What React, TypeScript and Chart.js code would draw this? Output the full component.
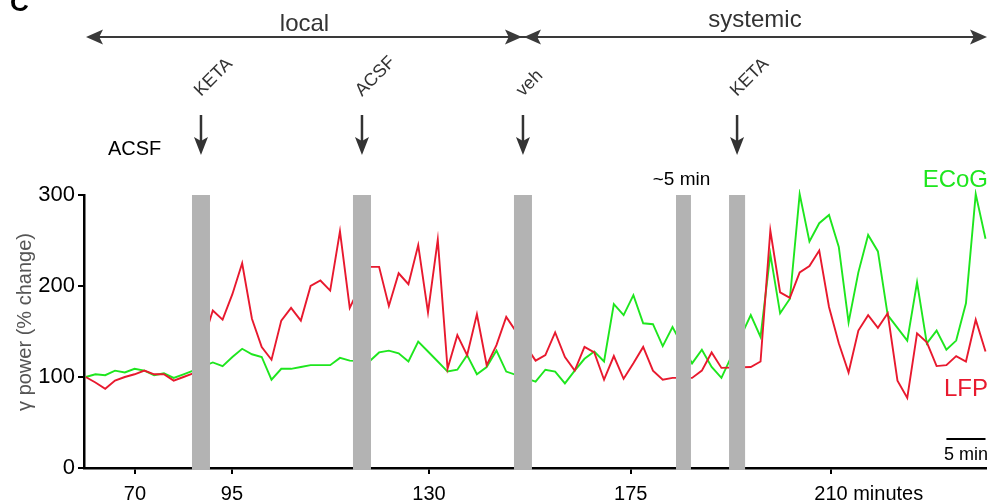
import React, { useEffect, useRef } from 'react';
import { Chart, registerables } from 'chart.js';

Chart.register(...registerables);

// ---- data: gamma power (% change), one value per sample, split by the grey breaks ----
const lfpBaseline = [100, 94, 87, 96, 100, 103, 107, 103, 103, 96, 100, 104];
const lfpLocalKeta = [173, 163, 191, 225, 164, 133, 119, 162, 176, 162, 200, 206, 195, 260, 176];
const lfpLocalAcsf = [221, 221, 178, 214, 202, 245, 171, 251, 109, 146, 124, 169, 113, 135, 166];
const lfpSystemicVeh = [118, 124, 149, 122, 107, 133, 127, 97, 123, 98, 115, 133, 107, 97, 99];
const lfpSystemicVehLate = [99, 107, 127, 110];
const lfpSystemicKeta = [111, 117, 261, 193, 187, 215, 222, 239, 177, 137, 105, 151, 168, 154, 170, 96, 77, 148, 138, 112, 113, 123, 117, 163, 128];

const ecogBaseline = [100, 103, 102, 107, 105, 109, 107, 102, 104, 99, 103, 107];
const ecogLocalKeta = [116, 112, 122, 131, 125, 122, 97, 109, 109, 111, 113, 113, 113, 121, 118];
const ecogLocalAcsf = [117, 127, 129, 126, 117, 139, 128, 117, 106, 108, 124, 103, 111, 129, 106];
const ecogSystemicVeh = [95, 108, 106, 93, 107, 120, 128, 117, 180, 168, 190, 159, 158, 134, 155];
const ecogSystemicVehLate = [115, 130, 111, 99];
const ecogSystemicKeta = [168, 144, 235, 170, 186, 301, 249, 269, 278, 243, 160, 215, 256, 238, 168, 154, 140, 204, 137, 151, 130, 140, 181, 301, 252];

// samples hidden under each grey break (axis in sample units)
const breakHiddenSamples = [1, 1, 2, 1, 2];
const breakCenters = [11.79, 28.25, 44.71, 61.12, 66.6];
const breakSpans = [1.84, 1.84, 1.84, 1.53, 1.64];

const drugLabels = ['KETA', 'ACSF', 'veh', 'KETA'];
const drugBreakIndex = [0, 1, 2, 4];

const xTickValues = [5.04, 14.95, 35.1, 55.73, 76.2];
const xTickLabels = ['70', '95', '130', '175', '210'];
const yTickValues = [0, 100, 200, 300];
const scaleBarSamples = [88, 92];

const RED = '#e8192e';
const GREEN = '#1ee61e';
const FONT = '"Liberation Sans", Arial, Helvetica, sans-serif';

function joinSegments(segs: number[][]) {
  const out: { x: number; y: number | null }[] = [];
  let i = 0;
  segs.forEach((seg, k) => {
    seg.forEach((v) => out.push({ x: i++, y: v }));
    if (k < breakHiddenSamples.length) {
      for (let j = 0; j < breakHiddenSamples[k]; j++) out.push({ x: i++, y: null });
    }
  });
  return out;
}

function head(ctx: CanvasRenderingContext2D, x: number, y: number, dx: number, dy: number, len: number, half: number) {
  const px = -dy, py = dx;
  ctx.beginPath();
  ctx.moveTo(x, y);
  ctx.lineTo(x - dx * len + px * half, y - dy * len + py * half);
  ctx.lineTo(x - dx * len * 0.78, y - dy * len * 0.78);
  ctx.lineTo(x - dx * len - px * half, y - dy * len - py * half);
  ctx.closePath();
  ctx.fill();
}

const overlay = {
  id: 'overlay',
  afterDraw(chart: any) {
    const ctx: CanvasRenderingContext2D = chart.ctx;
    const a = chart.chartArea;
    const xs = chart.scales.x;
    const px = (v: number) => xs.getPixelForValue(v);
    ctx.save();

    // grey breaks
    ctx.fillStyle = '#b3b3b3';
    breakCenters.forEach((c, k) => {
      const l = px(c - breakSpans[k] / 2);
      const r = px(c + breakSpans[k] / 2);
      ctx.fillRect(l, a.top, r - l, a.bottom - a.top + 2);
    });

    // x tick labels
    ctx.fillStyle = '#000';
    ctx.font = `20px ${FONT}`;
    ctx.textBaseline = 'alphabetic';
    xTickValues.forEach((v, k) => {
      ctx.textAlign = 'center';
      const x = px(v);
      ctx.fillText(xTickLabels[k], x, 500);
      if (k === xTickValues.length - 1) {
        const w = ctx.measureText(xTickLabels[k]).width;
        ctx.textAlign = 'left';
        ctx.fillText(' minutes', x + w / 2, 500);
      }
    });

    // y title
    ctx.save();
    ctx.translate(25, 322);
    ctx.rotate(-Math.PI / 2);
    ctx.textAlign = 'center';
    ctx.textBaseline = 'middle';
    ctx.fillStyle = '#555';
    ctx.font = `20px ${FONT}`;
    ctx.fillText('\u03b3 power (% change)', 0, 0);
    ctx.restore();

    // local / systemic arrows
    const yTop = 37;
    const left = a.left + 2;
    const mid = px(breakCenters[2]);
    const right = a.right + 1;
    ctx.strokeStyle = '#3a3a3a';
    ctx.fillStyle = '#3a3a3a';
    ctx.lineWidth = 2;
    ctx.beginPath();
    ctx.moveTo(left + 6, yTop);
    ctx.lineTo(right - 6, yTop);
    ctx.stroke();
    head(ctx, left, yTop, -1, 0, 17, 7.5);
    head(ctx, mid - 1, yTop, 1, 0, 17, 7.5);
    head(ctx, mid + 1, yTop, -1, 0, 17, 7.5);
    head(ctx, right, yTop, 1, 0, 17, 7.5);
    ctx.font = `24px ${FONT}`;
    ctx.textAlign = 'center';
    ctx.fillStyle = '#333';
    ctx.fillText('local', (left + mid) / 2, 31);
    ctx.fillText('systemic', (mid + right) / 2, 27);

    // drug arrows and rotated labels
    drugBreakIndex.forEach((bi, k) => {
      const x = px(breakCenters[bi]);
      ctx.strokeStyle = '#333';
      ctx.fillStyle = '#333';
      ctx.lineWidth = 2.5;
      ctx.beginPath();
      ctx.moveTo(x, 115);
      ctx.lineTo(x, 145);
      ctx.stroke();
      head(ctx, x, 155, 0, 1, 18, 7);
      ctx.save();
      ctx.translate(x, 97);
      ctx.rotate(-Math.PI / 4);
      ctx.font = `18px ${FONT}`;
      ctx.textAlign = 'left';
      ctx.fillText(drugLabels[k], 0, 0);
      ctx.restore();
    });

    // baseline label
    ctx.fillStyle = '#000';
    ctx.font = `20px ${FONT}`;
    ctx.textAlign = 'center';
    ctx.fillText('ACSF', px(5), 155);

    // ~5 min
    ctx.font = `19px ${FONT}`;
    ctx.fillText('~5 min', px(breakCenters[3]) - 2, 185);

    // series labels
    ctx.font = `24px ${FONT}`;
    ctx.textAlign = 'right';
    ctx.fillStyle = GREEN;
    ctx.fillText('ECoG', 988, 187);
    ctx.fillStyle = RED;
    ctx.fillText('LFP', 988, 396);

    // scale bar
    ctx.strokeStyle = '#000';
    ctx.lineWidth = 2;
    ctx.beginPath();
    ctx.moveTo(px(scaleBarSamples[0]), 439);
    ctx.lineTo(px(scaleBarSamples[1]), 439);
    ctx.stroke();
    ctx.fillStyle = '#000';
    ctx.font = `18px ${FONT}`;
    ctx.textAlign = 'right';
    ctx.fillText('5 min', 988, 460);

    // panel letter
    ctx.font = `bold 26px ${FONT}`;
    ctx.textAlign = 'left';
    ctx.fillText('C', 10, 11);

    ctx.restore();
  },
};

export default function App() {
  const ref = useRef<HTMLCanvasElement | null>(null);

  useEffect(() => {
    if (!ref.current) return;
    document.body.style.margin = '0';
    const lfp = joinSegments([lfpBaseline, lfpLocalKeta, lfpLocalAcsf, lfpSystemicVeh, lfpSystemicVehLate, lfpSystemicKeta]);
    const ecog = joinSegments([ecogBaseline, ecogLocalKeta, ecogLocalAcsf, ecogSystemicVeh, ecogSystemicVehLate, ecogSystemicKeta]);
    const axisGrid = { display: true, drawOnChartArea: false, drawTicks: true, tickLength: 6, color: '#000', lineWidth: 2 };
    const chart = new Chart(ref.current, {
      type: 'line',
      data: {
        datasets: [
          { label: 'LFP', data: lfp as any, borderColor: RED, borderWidth: 1.9, pointRadius: 0, spanGaps: true, tension: 0, clip: 6 as any },
          { label: 'ECoG', data: ecog as any, borderColor: GREEN, borderWidth: 1.9, pointRadius: 0, spanGaps: true, tension: 0, clip: 6 as any },
        ],
      },
      options: {
        responsive: false,
        maintainAspectRatio: false,
        animation: false,
        layout: { padding: { left: 0, right: 6, top: 195, bottom: 0 } },
        plugins: { legend: { display: false }, tooltip: { enabled: false } },
        scales: {
          x: {
            type: 'linear',
            min: -0.17,
            max: 92.05,
            afterBuildTicks: (s: any) => { s.ticks = xTickValues.map((v) => ({ value: v })); },
            afterFit: (s: any) => { s.height = 36; },
            ticks: { display: false },
            grid: axisGrid as any,
            border: { display: true, color: '#000', width: 2.5 },
          },
          y: {
            type: 'linear',
            min: 0,
            max: 300,
            afterBuildTicks: (s: any) => { s.ticks = yTickValues.map((v) => ({ value: v })); },
            afterFit: (s: any) => { s.width = 84; },
            ticks: { color: '#000', font: { size: 22, family: FONT }, padding: 3 },
            grid: axisGrid as any,
            border: { display: true, color: '#000', width: 2.5 },
          },
        },
      },
      plugins: [overlay],
    });
    return () => chart.destroy();
  }, []);

  return (
    <div style={{ position: 'fixed', left: 0, top: 0, width: 992, height: 504, background: '#fff' }}>
      <canvas ref={ref} width={992} height={504} style={{ width: 992, height: 504, display: 'block' }} />
    </div>
  );
}
